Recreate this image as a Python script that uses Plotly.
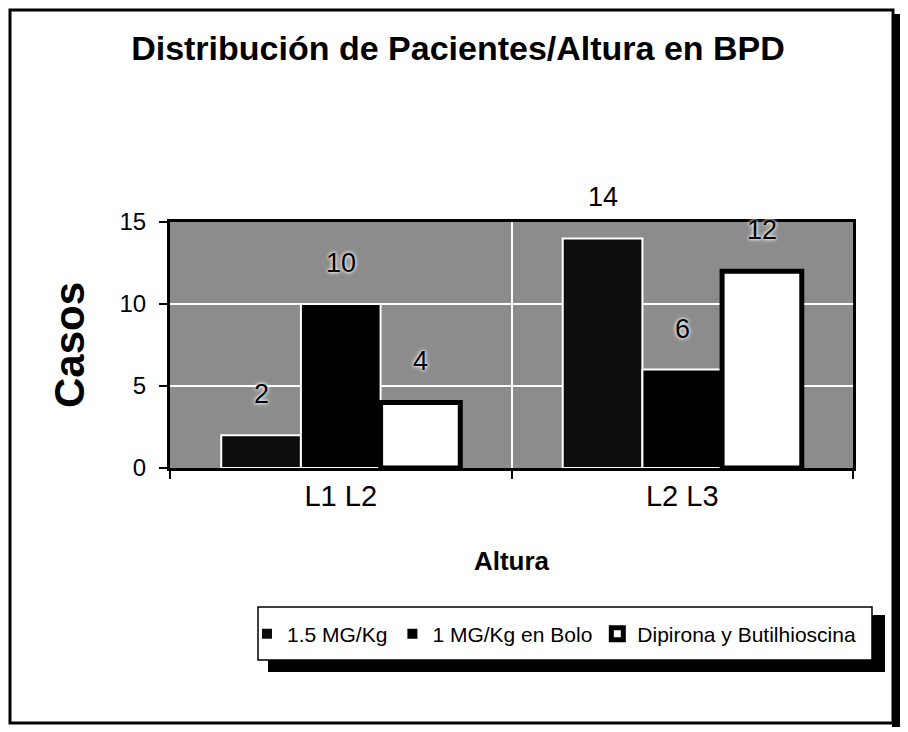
import plotly.graph_objects as go

categories = ["L1 L2", "L2 L3"]
series_names = ["1.5 MG/Kg", "1 MG/Kg en Bolo", "Dipirona y Butilhioscina"]
dose_15 = [2, 14]
dose_1_bolo = [10, 6]
dipirona = [4, 12]

title_text = "Distribución de Pacientes/Altura en BPD"
x_title = "Altura"
y_title = "Casos"

FONT = "Liberation Sans, Arial, sans-serif"
# the page body has an 8px margin, so the figure is a bit smaller than the window
OFF = 8
W, H = 908 - OFF, 732 - OFF
# plot area in window pixels
PL, PR, PT, PB = 170, 853, 222, 468


def px(x):
    return (x - PL) / (PR - PL)


def py(y):
    return (PB - y) / (PB - PT)


styles = [
    dict(color="#0d0d0d", line=dict(color="white", width=2)),
    dict(color="black", line=dict(color="white", width=2)),
    dict(color="white", line=dict(color="black", width=5)),
]

fig = go.Figure()
for name, vals, st in zip(series_names, [dose_15, dose_1_bolo, dipirona], styles):
    fig.add_trace(go.Bar(x=categories, y=vals, name=name, marker=st))

# data labels above the bars
bargap = 0.3
cat_px = (PR - PL) / len(categories)
bar_px = cat_px * (1 - bargap) / 3
for i, vals in enumerate([dose_15, dose_1_bolo, dipirona]):
    for cat, v in zip(categories, vals):
        fig.add_annotation(x=cat, y=v, text=str(v), showarrow=False,
                           xshift=(i - 1) * bar_px, yshift=41,
                           font=dict(size=27, color="black", family=FONT,
                                     shadow="0px 0px 3px white, 0px 0px 5px white"))

shapes = [
    # outer frame + shadow
    dict(type="rect", xref="paper", yref="paper",
         x0=px(892), x1=px(905), y0=py(14), y1=py(727),
         fillcolor="black", line=dict(width=0), layer="below"),
    dict(type="rect", xref="paper", yref="paper",
         x0=px(10), x1=px(893), y0=py(10), y1=py(723),
         line=dict(color="black", width=3), layer="below"),
    # legend box + shadow
    dict(type="rect", xref="paper", yref="paper",
         x0=px(268), x1=px(885), y0=py(615), y1=py(672),
         fillcolor="black", line=dict(width=0), layer="above"),
    dict(type="rect", xref="paper", yref="paper",
         x0=px(258), x1=px(872), y0=py(607), y1=py(660),
         fillcolor="white", line=dict(color="black", width=1.5), layer="above"),
]

fig.update_layout(
    width=W, height=H,
    margin=dict(l=PL - OFF, r=W - (PR - OFF), t=PT - OFF, b=H - (PB - OFF)),
    paper_bgcolor="white",
    plot_bgcolor="#8c8c8c",
    barmode="group",
    bargap=bargap,
    bargroupgap=0,
    font=dict(family=FONT, color="black"),
    title=dict(text="<b>" + title_text + "</b>", x=0.5, xanchor="center",
               y=1 - (48 - OFF) / H, yanchor="middle",
               font=dict(size=34, family=FONT, color="black")),
    showlegend=True,
    legend=dict(orientation="h", x=px(247), xanchor="left",
                y=py(634), yanchor="middle",
                bgcolor="rgba(0,0,0,0)", borderwidth=0,
                font=dict(size=21, family=FONT, color="black"),
                itemwidth=30, traceorder="normal"),
    shapes=shapes,
)

fig.update_xaxes(
    showline=True, linecolor="black", linewidth=3, mirror=True,
    ticks="outside", ticklen=8, tickwidth=1.5, tickcolor="black",
    tickson="boundaries",
    showgrid=True, gridcolor="white", gridwidth=2,
    tickfont=dict(size=29, family=FONT, color="black"),
    title=dict(text="<b>" + x_title + "</b>", standoff=42,
               font=dict(size=26, family=FONT, color="black")),
)
fig.update_yaxes(
    range=[0, 15], dtick=5, tick0=0,
    showline=True, linecolor="black", linewidth=3, mirror=True,
    ticks="outside", ticklen=8, tickwidth=1.5, tickcolor="black",
    showgrid=True, gridcolor="white", gridwidth=2, zeroline=False,
    tickfont=dict(size=24, family=FONT, color="black"),
    ticklabelstandoff=8,
    title=dict(text="<b>" + y_title + "</b>", standoff=22,
               font=dict(size=42, family=FONT, color="black")),
)

fig.write_html("out.html")
